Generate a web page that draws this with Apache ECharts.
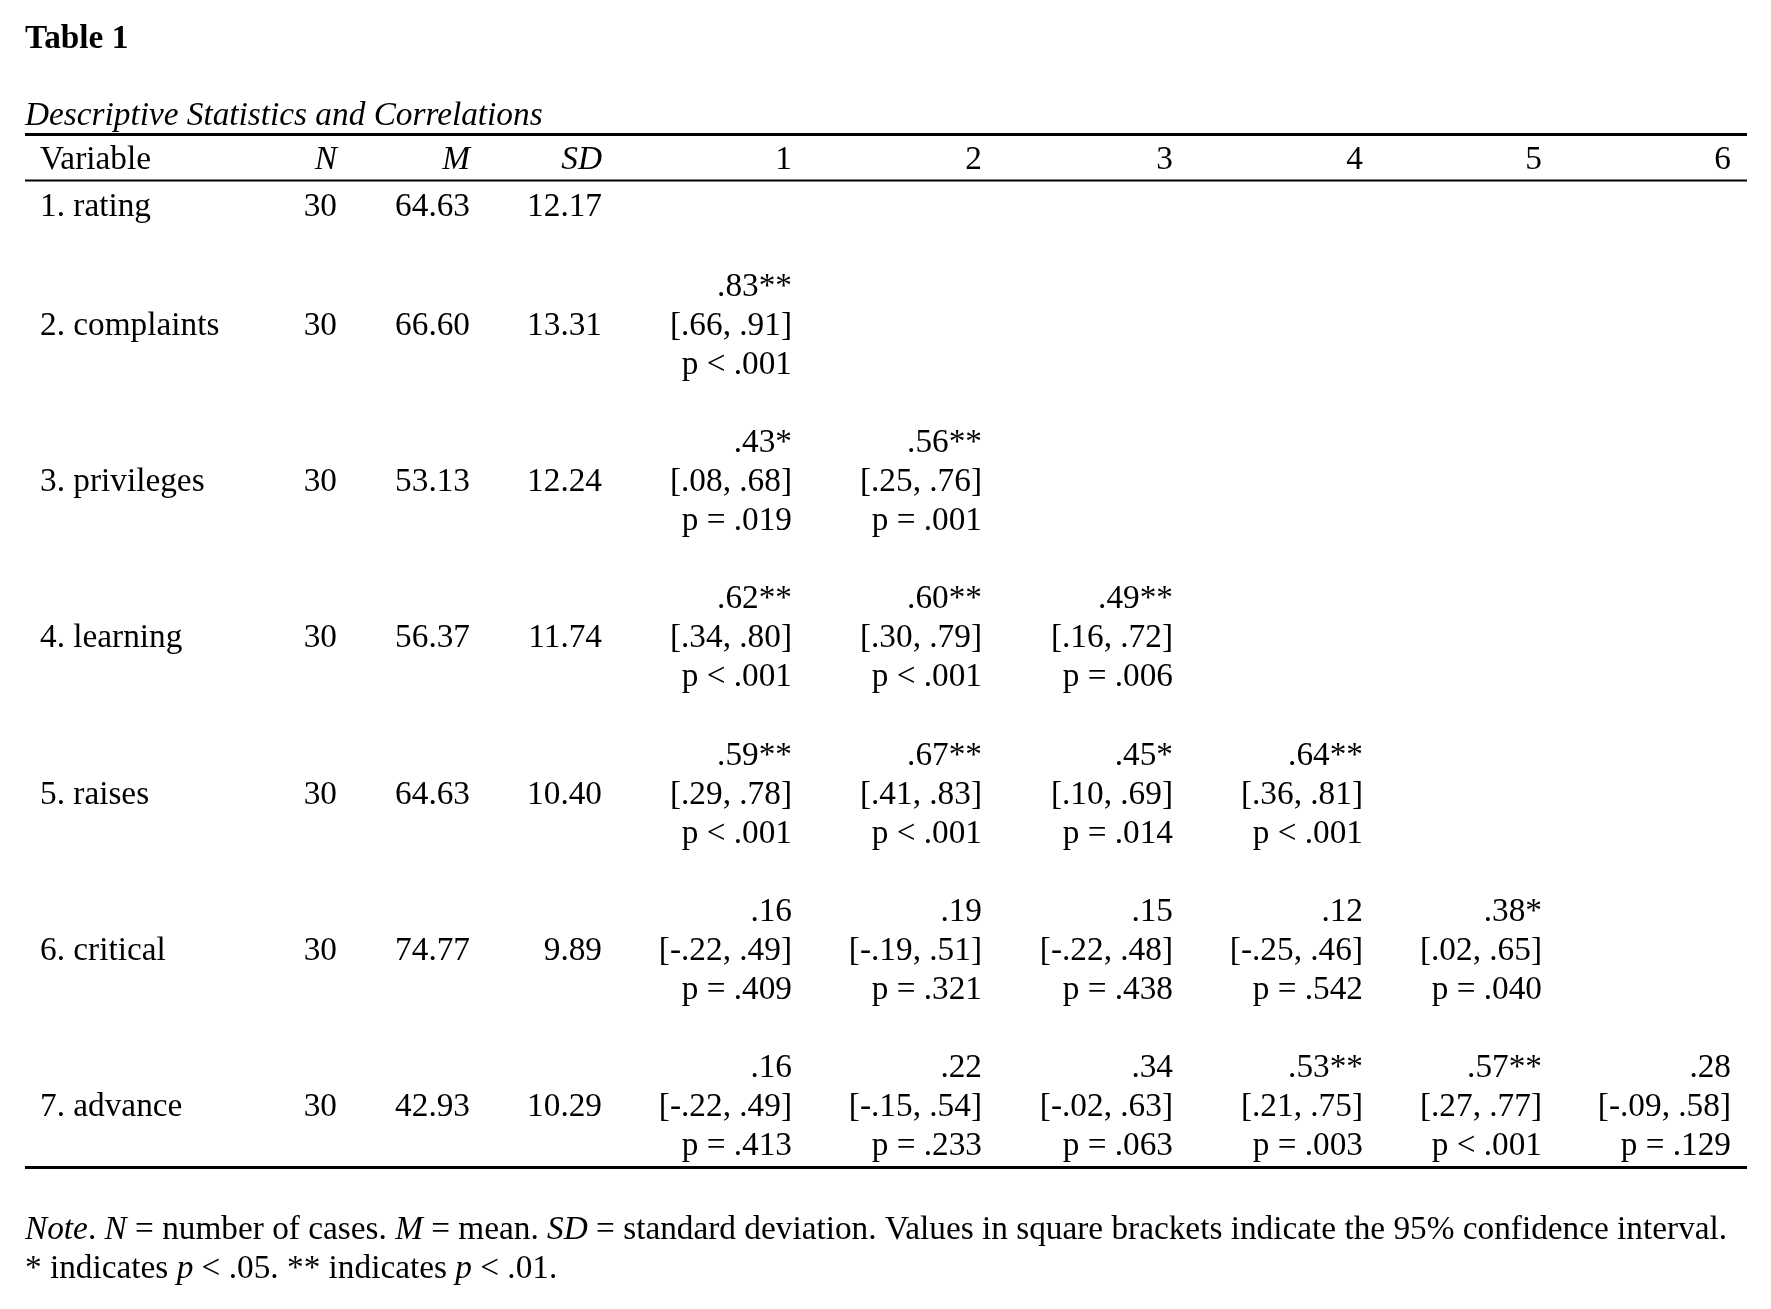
<!DOCTYPE html>
<html>
<head>
<meta charset="utf-8">
<title>Table 1</title>
<script src="https://cdn.jsdelivr.net/npm/echarts@6/dist/echarts.min.js"></script>
<style>
  html, body { margin: 0; padding: 0; background: #fff; }
  #main { width: 1771px; height: 1309px; }
</style>
</head>
<body>
<div id="main"></div>
<script>
// table values
const variables = ['rating', 'complaints', 'privileges', 'learning', 'raises', 'critical', 'advance'];
const nCases = [30, 30, 30, 30, 30, 30, 30];
const means = [64.63, 66.60, 53.13, 56.37, 64.63, 74.77, 42.93];
const sds = [12.17, 13.31, 12.24, 11.74, 10.40, 9.89, 10.29];
const corrR = [[], [.83], [.43, .56], [.62, .60, .49], [.59, .67, .45, .64], [.16, .19, .15, .12, .38], [.16, .22, .34, .53, .57, .28]];
const ciLow = [[], [.66], [.08, .25], [.34, .30, .16], [.29, .41, .10, .36], [-.22, -.19, -.22, -.25, .02], [-.22, -.15, -.02, .21, .27, -.09]];
const ciHigh = [[], [.91], [.68, .76], [.80, .79, .72], [.78, .83, .69, .81], [.49, .51, .48, .46, .65], [.49, .54, .63, .75, .77, .58]];
const pVals = [[], ['<.001'], [.019, .001], ['<.001', '<.001', .006], ['<.001', '<.001', .014, '<.001'],
  [.409, .321, .438, .542, .040], [.413, .233, .063, .003, '<.001', .129]];
const corrHeads = ['1', '2', '3', '4', '5', '6'];

// layout (pixels)
const W = 1771, H = 1309;
const FONT = 'Liberation Serif';
const FS = 33.3;
const lineH = 39;
const tableLeft = 25, tableRight = 1747;
const labelLeft = 40;
const colN = 337, colM = 470, colSD = 602;
const colCorr = [792, 982, 1173, 1363, 1542, 1731];
const headY = 160;
const rowY = [207, 326.5, 482.6, 638.7, 794.8, 950.9, 1107];
const rules = [[134.5, 3], [180.5, 2], [1167.5, 3]];

function trim0(s) { return s.replace(/^(-?)0\./, '$1.'); }
function fmtP(p) { return p === '<.001' ? 'p < .001' : 'p = ' + trim0(p.toFixed(3)); }
function stars(p) {
  if (p === '<.001' || p < .01) return '**';
  if (p < .05) return '*';
  return '';
}

const cells = [];
function addCell(x, y, text, align, style) {
  cells.push({ value: [x, y], text: text, align: align, style: style || 'normal' });
}

addCell(labelLeft, headY, 'Variable', 'left');
addCell(colN, headY, 'N', 'right', 'italic');
addCell(colM, headY, 'M', 'right', 'italic');
addCell(colSD, headY, 'SD', 'right', 'italic');
corrHeads.forEach((h, j) => addCell(colCorr[j], headY, h, 'right'));

variables.forEach((v, i) => {
  const y = rowY[i];
  addCell(labelLeft, y, (i + 1) + '. ' + v, 'left');
  addCell(colN, y, String(nCases[i]), 'right');
  addCell(colM, y, means[i].toFixed(2), 'right');
  addCell(colSD, y, sds[i].toFixed(2), 'right');
  corrR[i].forEach((r, j) => {
    const txt = trim0(r.toFixed(2)) + stars(pVals[i][j]) + '\n' +
      '[' + trim0(ciLow[i][j].toFixed(2)) + ', ' + trim0(ciHigh[i][j].toFixed(2)) + ']\n' +
      fmtP(pVals[i][j]);
    addCell(colCorr[j], y, txt, 'right');
  });
});

const chart = echarts.init(document.getElementById('main'));
chart.setOption({
  animation: false,
  backgroundColor: '#fff',
  grid: { left: 0, right: 0, top: 0, bottom: 0 },
  xAxis: { type: 'value', min: 0, max: W, show: false },
  yAxis: { type: 'value', min: 0, max: H, inverse: true, show: false },
  graphic: [
    { type: 'text', x: tableLeft, y: 39, style: { text: 'Table 1', font: 'bold ' + FS + 'px "' + FONT + '"', fill: '#000', verticalAlign: 'middle' } },
    { type: 'text', x: tableLeft, y: 116, style: { text: 'Descriptive Statistics and Correlations', font: 'italic ' + FS + 'px "' + FONT + '"', fill: '#000', verticalAlign: 'middle' } },
    { type: 'text', x: tableLeft, y: 1230, style: {
      text: '{i|Note}. {i|N} = number of cases. {i|M} = mean. {i|SD} = standard deviation. Values in square brackets indicate the 95% confidence interval.',
      font: FS + 'px "' + FONT + '"', fill: '#000', verticalAlign: 'middle',
      rich: { i: { fontStyle: 'italic', fontFamily: FONT, fontSize: FS } } } },
    { type: 'text', x: tableLeft, y: 1269, style: {
      text: '* indicates {i|p} < .05. ** indicates {i|p} < .01.',
      font: FS + 'px "' + FONT + '"', fill: '#000', verticalAlign: 'middle',
      rich: { i: { fontStyle: 'italic', fontFamily: FONT, fontSize: FS } } } }
  ],
  series: [
    {
      type: 'custom',
      silent: true,
      data: rules.map(r => [tableLeft, tableRight, r[0], r[1]]),
      renderItem: function (params, api) {
        const a = api.coord([api.value(0), api.value(2)]);
        const b = api.coord([api.value(1), api.value(2)]);
        return {
          type: 'line',
          shape: { x1: a[0], y1: a[1], x2: b[0], y2: b[1] },
          style: { stroke: '#000', lineWidth: api.value(3) }
        };
      }
    },
    {
      type: 'custom',
      silent: true,
      data: cells.map(c => c.value),
      renderItem: function (params, api) {
        const c = cells[params.dataIndex];
        const pt = api.coord([api.value(0), api.value(1)]);
        return {
          type: 'text',
          style: {
            text: c.text,
            x: pt[0],
            y: pt[1],
            align: c.align,
            verticalAlign: 'middle',
            font: (c.style === 'italic' ? 'italic ' : '') + FS + 'px "' + FONT + '"',
            lineHeight: lineH,
            fill: '#000'
          }
        };
      }
    }
  ]
});
</script>
</body>
</html>
